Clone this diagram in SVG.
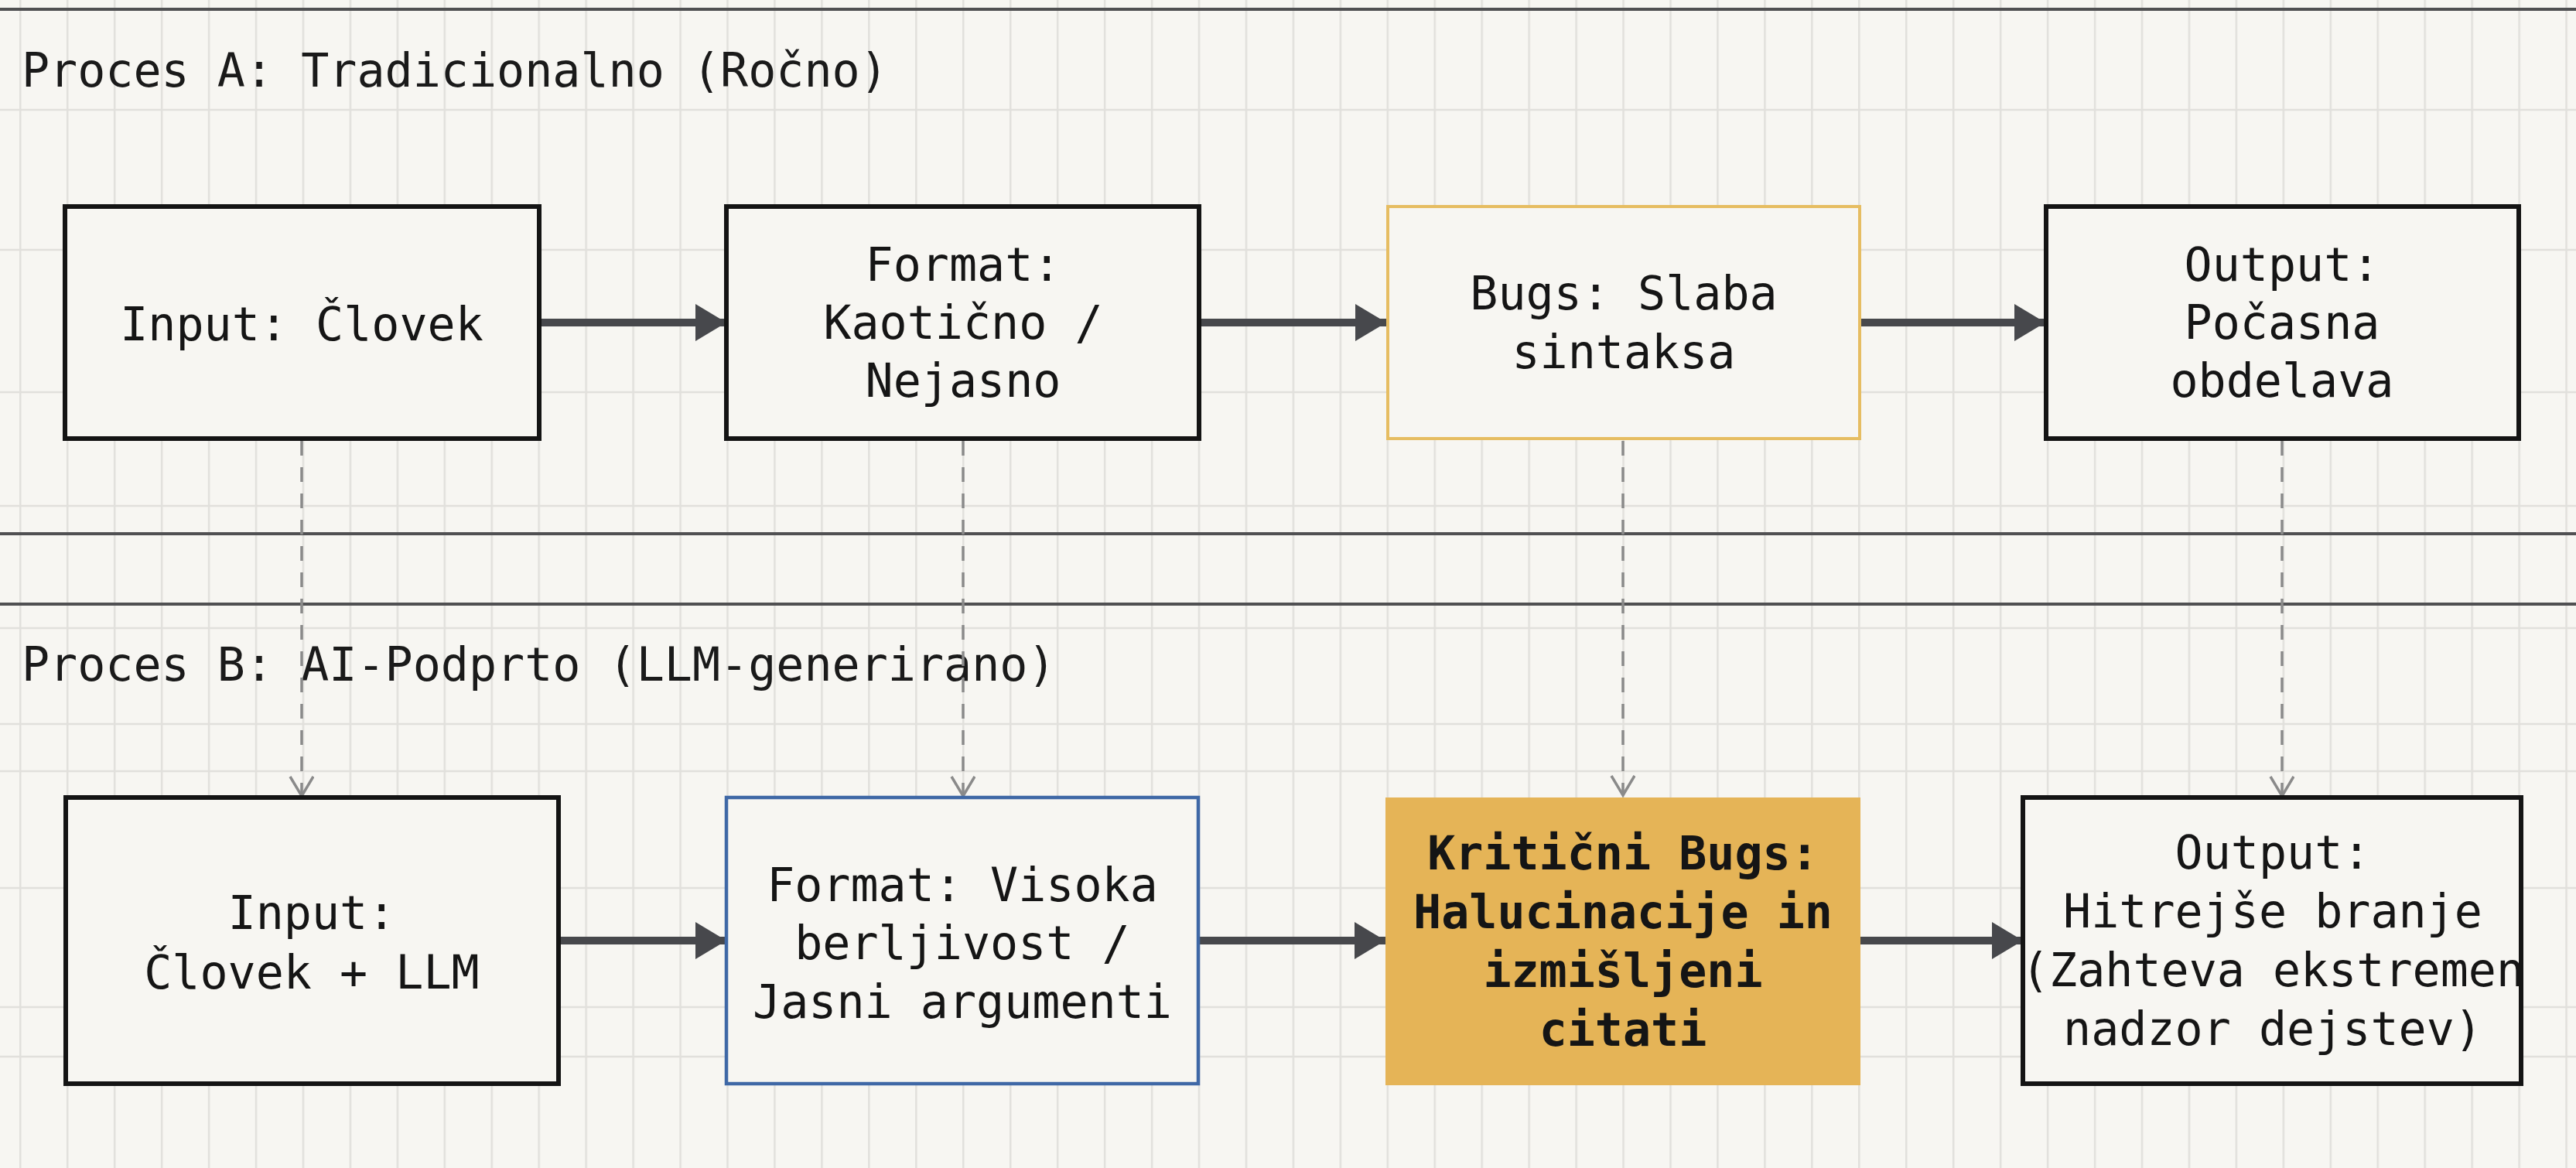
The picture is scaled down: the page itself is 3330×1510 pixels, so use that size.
<svg xmlns="http://www.w3.org/2000/svg" width="3330" height="1510" viewBox="0 0 3330 1510">
<style>
.t{font-family:"DejaVu Sans Mono","Liberation Mono",monospace;font-size:60px;fill:#151515;text-anchor:middle}
.title{font-family:"DejaVu Sans Mono","Liberation Mono",monospace;font-size:60px;fill:#1a1a1a}
.b{font-weight:bold}
.box{fill:#f7f6f2;stroke:#141414;stroke-width:6}
.sep{stroke:#505052;stroke-width:4}
.grid{stroke:#e1e0dc;stroke-width:2.5}
.flow{stroke:#47484c;stroke-width:10;fill:none}
.dash{stroke:#8a8a8a;stroke-width:3.5;stroke-dasharray:19 15;fill:none}
</style>
<defs>
<pattern id="vg" x="25" y="0" width="60.95" height="1510" patternUnits="userSpaceOnUse">
<rect x="0" y="0" width="2.5" height="1510" fill="#e1e0dc"/>
</pattern>
<marker id="ah" markerUnits="userSpaceOnUse" markerWidth="42" markerHeight="48" refX="40" refY="24" orient="auto">
<polygon points="0,0 40,24 0,48" fill="#47484c"/>
</marker>
<marker id="ch" markerUnits="userSpaceOnUse" markerWidth="30" markerHeight="36" refX="26" refY="16" orient="auto">
<polyline points="1,1 26,16 1,31" fill="none" stroke="#8a8a8a" stroke-width="3.5"/>
</marker>
</defs>
<rect width="3330" height="1510" fill="#f7f6f2"/>
<rect width="3330" height="1510" fill="url(#vg)"/>
<g id="hgrid">
<line class="grid" x1="0" y1="142" x2="3330" y2="142"/>
<line class="grid" x1="0" y1="323" x2="3330" y2="323"/>
<line class="grid" x1="0" y1="507" x2="3330" y2="507"/>
<line class="grid" x1="0" y1="654" x2="3330" y2="654"/>
<line class="grid" x1="0" y1="812" x2="3330" y2="812"/>
<line class="grid" x1="0" y1="936" x2="3330" y2="936"/>
<line class="grid" x1="0" y1="997" x2="3330" y2="997"/>
<line class="grid" x1="0" y1="1148" x2="3330" y2="1148"/>
<line class="grid" x1="0" y1="1302" x2="3330" y2="1302"/>
<line class="grid" x1="0" y1="1366" x2="3330" y2="1366"/>
</g>
<g id="separators">
<line class="sep" x1="0" y1="12" x2="3330" y2="12"/>
<line class="sep" x1="0" y1="690" x2="3330" y2="690"/>
<line class="sep" x1="0" y1="781" x2="3330" y2="781"/>
</g>
<text id="title-a" class="title" x="28" y="112">Proces A: Tradicionalno (Ročno)</text>
<text id="title-b" class="title" x="28" y="880">Proces B: AI-Podprto (LLM-generirano)</text>

<g id="connectors">
<line class="flow" x1="697" y1="417" x2="939" y2="417" marker-end="url(#ah)"/>
<line class="flow" x1="1550" y1="417" x2="1792" y2="417" marker-end="url(#ah)"/>
<line class="flow" x1="2404" y1="417" x2="2644" y2="417" marker-end="url(#ah)"/>
<line class="flow" x1="722" y1="1216" x2="939" y2="1216" marker-end="url(#ah)"/>
<line class="flow" x1="1549" y1="1216" x2="1791" y2="1216" marker-end="url(#ah)"/>
<line class="flow" x1="2405" y1="1216" x2="2615" y2="1216" marker-end="url(#ah)"/>
<line class="dash" x1="390" y1="570" x2="390" y2="1029" marker-end="url(#ch)"/>
<line class="dash" x1="1245" y1="570" x2="1245" y2="1029" marker-end="url(#ch)"/>
<line class="dash" x1="2098" y1="570" x2="2098" y2="1028" marker-end="url(#ch)"/>
<line class="dash" x1="2950" y1="570" x2="2950" y2="1029" marker-end="url(#ch)"/>
</g>

<g id="a1">
<rect class="box" x="84" y="267" width="613" height="300"/>
<text class="t" x="390" y="440">Input: Človek</text>
</g>
<g id="a2">
<rect class="box" x="939" y="267" width="611" height="300"/>
<text class="t"><tspan x="1245" y="363">Format:</tspan><tspan x="1245" y="438">Kaotično /</tspan><tspan x="1245" y="513">Nejasno</tspan></text>
</g>
<g id="a3">
<rect class="box" x="1794" y="267" width="610" height="300" style="stroke:#e6bd62;stroke-width:4"/>
<text class="t"><tspan x="2099" y="400">Bugs: Slaba</tspan><tspan x="2099" y="476">sintaksa</tspan></text>
</g>
<g id="a4">
<rect class="box" x="2645" y="267" width="611" height="300"/>
<text class="t"><tspan x="2950" y="363">Output:</tspan><tspan x="2950" y="438">Počasna</tspan><tspan x="2950" y="513">obdelava</tspan></text>
</g>

<g id="b1">
<rect class="box" x="85" y="1031" width="637" height="370"/>
<text class="t"><tspan x="403" y="1201">Input:</tspan><tspan x="403" y="1278">Človek + LLM</tspan></text>
</g>
<g id="b2">
<rect class="box" x="939" y="1031" width="610" height="370" style="stroke:#3f68a6;stroke-width:4.5"/>
<text class="t"><tspan x="1244" y="1165">Format: Visoka</tspan><tspan x="1244" y="1240">berljivost /</tspan><tspan x="1244" y="1316">Jasni argumenti</tspan></text>
</g>
<g id="b3">
<rect x="1791" y="1031" width="614" height="372" fill="#e5b457"/>
<text class="t b"><tspan x="2098" y="1124">Kritični Bugs:</tspan><tspan x="2098" y="1200">Halucinacije in</tspan><tspan x="2098" y="1276">izmišljeni</tspan><tspan x="2098" y="1352">citati</tspan></text>
</g>
<g id="b4">
<rect class="box" x="2615" y="1031" width="644" height="370"/>
<text class="t"><tspan x="2938" y="1123">Output:</tspan><tspan x="2938" y="1199">Hitrejše branje</tspan><tspan x="2938" y="1275">(Zahteva ekstremen</tspan><tspan x="2938" y="1351">nadzor dejstev)</tspan></text>
</g>
</svg>
